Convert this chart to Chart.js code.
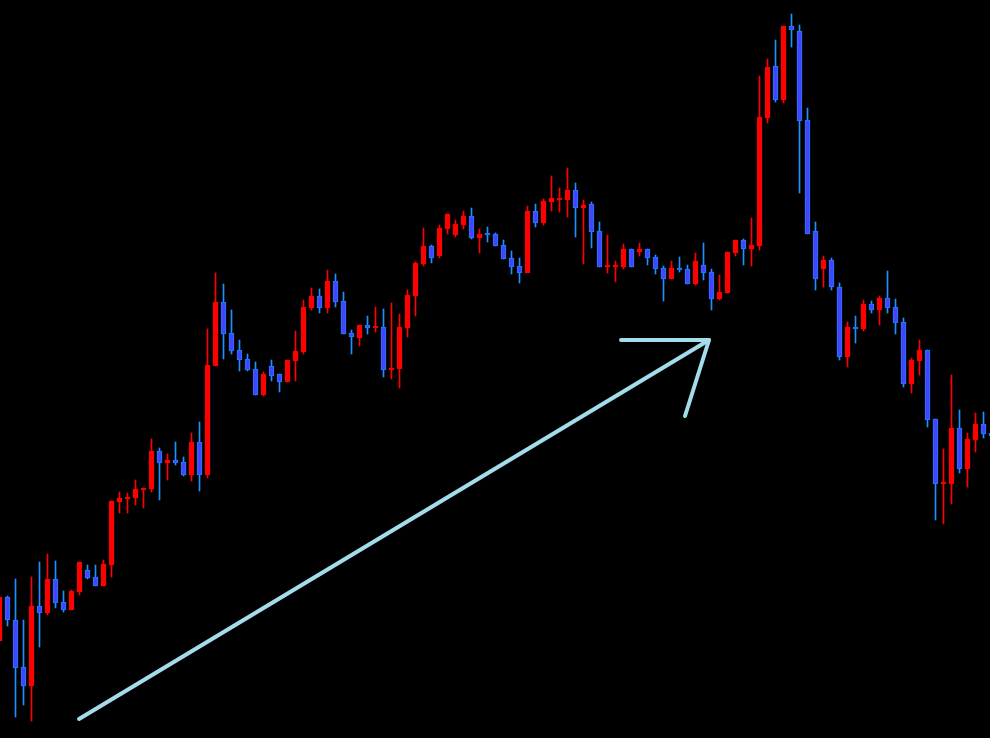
<!DOCTYPE html>
<html>
<head>
<meta charset="utf-8">
<script src="https://cdn.jsdelivr.net/npm/chart.js@4/dist/chart.umd.min.js"></script>
<style>
  html, body { margin: 0; padding: 0; background: #000; }
  #wrap { width: 990px; height: 738px; position: relative; }
</style>
</head>
<body>
<div id="wrap"><canvas id="c"></canvas></div>
<script>
// Candle data (price units), one entry per candle
const openP  = [97,141,118,71,52,132,125,159,136,128,146,168,161,152,173,236,239,240,248,249,
  287,275,278,276,263,296,263,372,436,405,388,379,369,343,372,364,356,377,386,430,
  442,430,457,437,405,400,413,410,411,368,369,410,442,474,492,482,509,503,513,522,
  500,505,504,493,480,472,465,527,515,536,538,538,548,530,534,507,471,471,471,489,
  486,489,481,470,459,470,469,454,473,466,439,445,485,498,489,492,620,672,638,712,
  707,618,507,469,478,451,381,411,409,434,428,440,431,416,354,377,388,319,254,254,
  310,269,298,314,305];
const highP  = [141,142,159,118,161,176,184,177,147,148,176,173,173,178,237,246,245,258,250,299,
  290,284,296,281,305,316,409,465,454,428,398,384,376,366,378,364,378,407,438,450,
  449,468,464,446,408,413,422,431,429,435,424,448,476,510,493,513,524,518,527,530,
  509,511,505,498,487,480,532,534,539,562,550,570,555,538,536,516,503,477,494,489,
  495,489,483,472,477,481,473,485,495,469,463,486,498,499,520,662,679,698,712,724,
  713,630,516,482,480,455,416,422,438,437,442,467,439,420,380,398,388,319,289,363,
  328,305,325,326,310];
const lowP   = [97,112,21,33,17,91,123,130,126,128,143,159,152,152,161,225,225,233,230,246,
  238,258,273,262,257,247,260,372,379,384,367,367,343,342,357,346,356,357,384,428,
  425,425,431,404,384,392,404,406,361,359,350,401,422,472,475,480,504,501,509,499,
  485,496,492,479,464,455,465,511,513,527,526,521,501,474,490,471,465,456,469,471,
  482,473,464,437,459,466,454,453,458,428,438,445,482,473,472,488,615,636,635,691,
  545,504,448,451,448,378,371,395,407,425,413,425,404,351,345,363,311,218,214,234,
  265,251,286,300,298];
const closeP = [141,118,70,52,132,125,159,135,128,147,176,160,152,174,237,240,241,249,250,287,
  275,278,275,263,296,263,373,436,404,387,378,368,343,364,362,356,378,387,431,442,
  430,457,436,404,401,413,410,412,368,370,411,443,475,492,480,510,524,514,522,500,
  504,503,492,479,471,465,527,515,537,540,540,548,530,533,506,471,473,473,489,471,
  489,480,469,459,470,468,454,477,465,439,446,486,498,489,493,621,671,638,712,708,
  617,504,459,478,451,381,411,409,434,428,440,430,415,354,378,388,318,254,256,310,
  269,299,314,304,302];

// Arrow annotation (x in candle-index units, y in price units)
const arrowShaftX = [9.94, 88.69, 77.69];
const arrowShaftY = [19, 398, 398];
const arrowHeadX  = [88.69, 85.69];
const arrowHeadY  = [398, 322];

const UP = '#ff0000';
const DOWN_FILL = '#4444ff';
const DOWN_EDGE = '#1e7fff';
const DOWN_WICK = '#1e90ff';
const ARROW = '#a3dcea';

const idx = openP.map((_, i) => i);
const bodies = idx.map(i => ({ x: i, y: [openP[i], closeP[i]] }));
const wicks  = idx.map(i => ({ x: i, y: [lowP[i], highP[i]] }));
const isUp = idx.map(i => closeP[i] >= openP[i]);

const shaft = arrowShaftX.map((x, k) => ({ x, y: arrowShaftY[k] }));
const head  = arrowHeadX.map((x, k) => ({ x, y: arrowHeadY[k] }));

new Chart(document.getElementById('c'), {
  type: 'bar',
  data: {
    datasets: [
      {
        type: 'line', data: shaft, order: 0,
        borderColor: ARROW, borderWidth: 4, pointRadius: 0, tension: 0,
        borderCapStyle: 'round', borderJoinStyle: 'round', fill: false
      },
      {
        type: 'line', data: head, order: 0,
        borderColor: ARROW, borderWidth: 4, pointRadius: 0, tension: 0,
        borderCapStyle: 'round', borderJoinStyle: 'round', fill: false
      },
      {
        type: 'bar', data: bodies, order: 1, grouped: false,
        barThickness: 5, borderSkipped: false, borderWidth: 1,
        backgroundColor: idx.map(i => isUp[i] ? UP : DOWN_FILL),
        borderColor: idx.map(i => isUp[i] ? UP : DOWN_EDGE)
      },
      {
        type: 'bar', data: wicks, order: 2, grouped: false,
        barThickness: 1, borderSkipped: false, borderWidth: 0,
        backgroundColor: idx.map(i => isUp[i] ? UP : DOWN_WICK)
      }
    ]
  },
  options: {
    responsive: true,
    maintainAspectRatio: false,
    animation: false,
    devicePixelRatio: 1,
    layout: { padding: 0 },
    plugins: { legend: { display: false }, tooltip: { enabled: false } },
    scales: {
      x: { type: 'linear', display: false, offset: false, min: 0.0625, max: 123.8125 },
      y: { type: 'linear', display: false, min: 0, max: 738 }
    }
  }
});
</script>
</body>
</html>
